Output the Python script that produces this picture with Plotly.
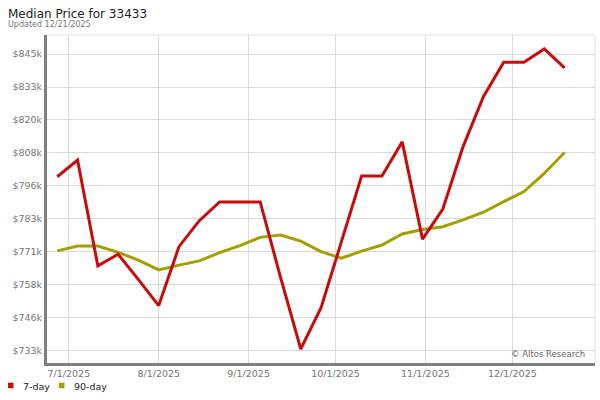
import plotly.graph_objects as go
import pandas as pd

# ---- data ----
dates = pd.date_range("2025-06-27", periods=26, freq="7D")
seven_day = [798900, 805200, 765200, 769600, 760000, 750200, 772500, 782300, 789400, 789400,
             789400, 761000, 733800, 749400, 773900, 799200, 799200, 812100, 775300, 786700,
             810300, 829200, 842200, 842200, 847200, 840100]
ninety_day = [770900, 772700, 772700, 770300, 767400, 763700, 765500, 767100, 770200, 772900,
              776000, 776900, 774600, 770600, 768100, 770800, 773100, 777300, 779000, 780000,
              782600, 785500, 789500, 793300, 800200, 808100]
y_tickvals = [733300, 745740, 758180, 770620, 783060, 795500, 807940, 820380, 832820, 845260]
y_ticktext = ["$733k", "$746k", "$758k", "$771k", "$783k", "$796k", "$808k", "$820k", "$833k", "$845k"]
x_tickvals = ["2025-07-01", "2025-08-01", "2025-09-01", "2025-10-01", "2025-11-01", "2025-12-01"]
x_ticktext = ["7/1/2025", "8/1/2025", "9/1/2025", "10/1/2025", "11/1/2025", "12/1/2025"]
series_names = ["7-day", "90-day"]
colors = ["#c80c0c", "#a3a000"]

FONT = "DejaVu Sans"
W, H = 600, 400
L, R, T, B = 47, 5, 35, 37
PW, PH = W - L - R, H - T - B


def px(xp):
    return (xp - L) / PW


def py(yp):
    return (H - B - yp) / PH


fig = go.Figure()
fig.add_trace(go.Scatter(x=dates, y=ninety_day, mode="lines", name=series_names[1],
                         line=dict(color=colors[1], width=3), showlegend=False))
fig.add_trace(go.Scatter(x=dates, y=seven_day, mode="lines", name=series_names[0],
                         line=dict(color=colors[0], width=3), showlegend=False))

shapes = [
    dict(type="line", xref="paper", yref="paper", x0=0, x1=1, y0=1, y1=1,
         line=dict(color="#dddddd", width=1)),
    dict(type="line", xref="paper", yref="paper", x0=1, x1=1, y0=0, y1=1,
         line=dict(color="#dddddd", width=1)),
]
annotations = [
    dict(text="Median Price for 33433", xref="paper", yref="paper", x=px(6), y=py(14),
         xanchor="left", yanchor="middle", showarrow=False,
         font=dict(family=FONT, size=12, color="#222222")),
    dict(text="Updated 12/21/2025", xref="paper", yref="paper", x=px(6), y=py(24.5),
         xanchor="left", yanchor="middle", showarrow=False,
         font=dict(family=FONT, size=8, color="#777777")),
    dict(text="© Altos Research", xref="paper", yref="paper", x=px(587), y=py(354),
         xanchor="right", yanchor="middle", showarrow=False,
         font=dict(family=FONT, size=8.5, color="#666666")),
]
# legend (squares + labels)
leg_x = [8, 59]
leg_tx = [21, 71.5]
for i in range(2):
    shapes.append(dict(type="rect", xref="paper", yref="paper",
                       x0=px(leg_x[i]), x1=px(leg_x[i] + 5.5), y0=py(382.7), y1=py(388.2),
                       fillcolor=colors[i], line=dict(width=0)))
    annotations.append(dict(text=series_names[i], xref="paper", yref="paper",
                            x=px(leg_tx[i]), y=py(386), xanchor="left", yanchor="middle",
                            showarrow=False, font=dict(family=FONT, size=9.5, color="#222222")))

fig.update_layout(
    width=W, height=H,
    margin=dict(l=L, r=R, t=T, b=B, pad=0, autoexpand=False),
    paper_bgcolor="white", plot_bgcolor="white",
    font=dict(family=FONT, size=9.5, color="#777777"),
    showlegend=False,
    shapes=shapes, annotations=annotations,
    xaxis=dict(
        type="date", automargin=False,
        range=["2025-06-23 11:00", "2025-12-29 12:00"],
        tickvals=x_tickvals, ticktext=x_ticktext,
        showgrid=True, gridcolor="#dadada", gridwidth=1,
        showline=True, linecolor="#808080", linewidth=3,
        ticks="", zeroline=False,
        tickfont=dict(family=FONT, size=9.5, color="#777777"),
        fixedrange=True,
    ),
    yaxis=dict(
        automargin=False,
        range=[728500, 852500],
        tickvals=y_tickvals, ticktext=y_ticktext,
        showgrid=True, gridcolor="#dadada", gridwidth=1,
        showline=True, linecolor="#808080", linewidth=3,
        ticks="", zeroline=False,
        tickfont=dict(family=FONT, size=9.5, color="#777777"),
        fixedrange=True,
    ),
)

fig.write_html("out.html", config={"displayModeBar": False},
               post_script="document.body.style.margin='0';document.body.style.overflow='hidden';")
